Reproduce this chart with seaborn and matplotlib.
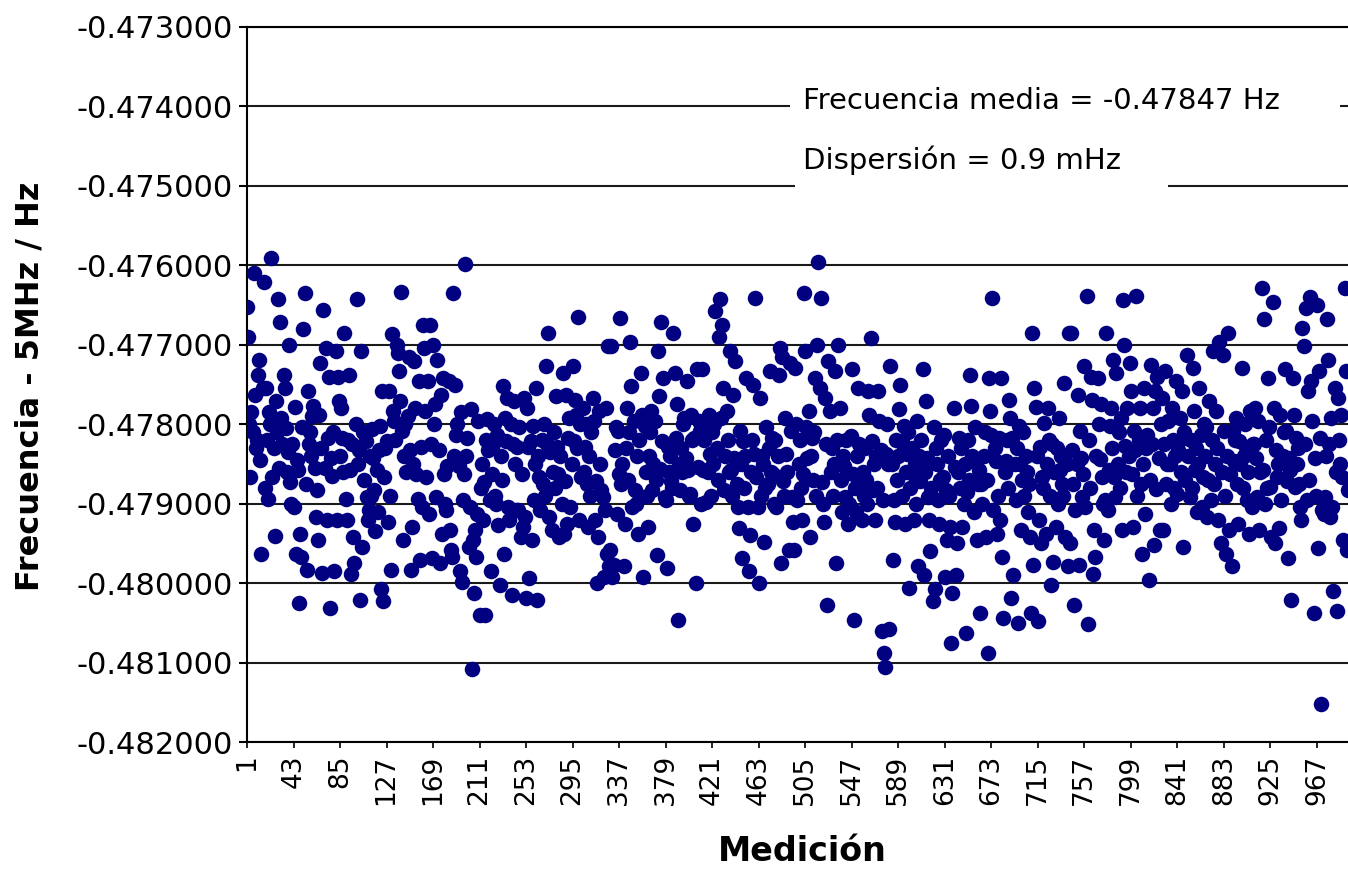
import numpy as np
import pandas as pd
import matplotlib
matplotlib.use("Agg")
import matplotlib.pyplot as plt
from matplotlib.patches import Rectangle
from matplotlib.ticker import FuncFormatter
import seaborn as sns

seg_0001_0079 = [
    -476.53, -476.90, -478.00, -478.67, -477.85, -478.10, -476.10, -477.63, -478.30, -478.20,
    -477.38, -477.19, -478.45, -479.63, -477.55, -476.21,
    -478.80, -477.54, -478.20, -478.94, -477.85, -478.00, -475.91, -478.67, -478.30, -479.41,
    -477.71, -478.10, -476.43, -478.55, -476.71, -477.92, -478.25, -477.38, -477.54, -478.05,
    -478.60, -478.35,
    -477.00, -478.73, -479.00, -478.25, -479.04, -477.78, -479.63, -478.45, -478.58, -480.25,
    -479.38, -479.67, -478.04, -476.80, -476.35, -478.75, -479.83, -477.58, -478.25, -478.10,
    -478.40, -477.90,
    -477.77, -478.55, -479.17, -478.83, -479.46, -477.88, -477.23, -478.30, -479.87, -476.56,
    -478.55, -477.04, -479.21, -478.17, -477.40, -480.31, -478.42, -478.65, -478.10]
seg_0080_0162 = [
    -479.85, -477.08, -479.21, -477.40, -477.71, -478.40, -477.79, -478.17, -478.60, -476.85,
    -478.94, -479.21, -478.20, -477.38, -478.58, -479.88, -478.25, -479.42, -479.75, -478.00,
    -476.43, -478.50, -478.33, -480.21, -477.08, -479.54, -478.10, -478.70, -478.21, -478.92,
    -479.21, -479.08, -478.40, -478.90, -478.06, -478.42, -478.83, -479.35, -478.58, -479.10,
    -478.33, -478.02, -480.08, -477.58, -480.23, -478.67, -478.30, -478.21, -479.23, -477.58,
    -478.90, -479.83, -476.87, -477.83, -477.96, -478.20, -477.00, -477.10, -477.33, -477.71,
    -476.33, -478.08, -479.46, -478.40, -478.00, -478.60, -477.90, -477.15, -478.33, -479.83,
    -479.29, -478.50, -477.20, -477.79, -478.63, -478.94, -477.46, -479.71, -478.29, -479.04,
    -476.75, -477.04, -477.83]
seg_0163_0245 = [
    -478.67, -477.46, -479.13, -476.75, -478.25, -479.69, -477.00, -478.00, -477.75, -478.92,
    -477.19, -478.33, -479.75, -477.63, -479.38, -477.42, -478.63, -479.00, -479.08, -478.52,
    -477.46, -479.33, -479.58, -479.67, -476.35, -478.40, -477.50, -478.13, -478.00, -478.52,
    -479.85, -477.85, -479.98, -478.96, -478.63, -475.98, -478.40, -478.17, -479.54, -479.04,
    -477.81, -481.08, -479.46, -480.13, -479.33, -479.67, -479.13, -477.96, -480.40, -478.80,
    -478.50, -479.20, -478.73, -480.40, -478.20, -477.94, -478.33, -478.96, -479.85, -478.63,
    -478.25, -478.00, -478.90, -479.00, -478.13, -479.27, -480.02, -478.40, -478.70, -477.52,
    -479.63, -477.92, -478.21, -477.67, -479.04, -479.21, -478.00, -480.15, -478.25, -477.71,
    -478.50, -479.08, -478.29]
seg_0246_0328 = [
    -479.08, -478.04, -479.42, -478.63, -479.29, -477.67, -479.17, -480.19, -477.79, -478.29,
    -479.94, -478.21, -479.46, -478.02, -478.96, -478.50, -477.54, -480.21, -478.40, -478.67,
    -479.08, -478.20, -478.75, -478.00, -478.90, -477.27, -478.25, -476.85, -479.17, -478.35,
    -479.33, -478.60, -478.10, -478.80, -477.65, -478.29, -478.63, -479.42, -478.40, -479.00,
    -477.35, -479.38, -478.71, -477.63, -479.25, -478.17, -477.92, -479.04, -478.50, -477.27,
    -478.21, -477.69, -477.88, -478.30, -476.65, -479.21, -478.00, -478.67, -477.79, -478.60,
    -478.29, -478.00, -478.75, -479.29, -478.40, -478.90, -478.10, -477.67, -477.96, -479.21,
    -478.71, -480.00, -479.42, -477.83, -478.50, -478.83, -478.92, -479.92, -479.08, -477.80,
    -479.63, -477.02, -479.79]
seg_0329_0411 = [
    -479.58, -477.02, -479.92, -479.77, -478.33, -478.04, -479.13, -478.08, -478.63, -476.66,
    -478.75, -478.50, -479.79, -479.25, -478.30, -477.79, -478.70, -478.10, -476.96, -477.52,
    -479.04, -477.96, -478.83, -479.00, -478.40, -479.38, -478.20, -478.92, -477.35, -477.88,
    -479.92, -478.02, -478.60, -478.90, -479.29, -478.40, -478.10, -477.83, -478.83, -478.50,
    -477.96, -478.70, -479.65, -477.08, -477.65, -478.56, -476.71, -478.21, -477.42, -478.92,
    -478.96, -479.81, -478.29, -478.60, -478.40, -478.71, -478.80, -476.85, -477.35, -478.17,
    -477.75, -480.46, -478.50, -478.83, -478.30, -478.60, -478.00, -477.92, -478.42, -477.46,
    -478.58, -478.90, -478.88, -477.88, -478.20, -479.25, -478.17, -480.00, -477.31, -478.54,
    -477.96, -478.08, -479.00]
seg_0412_0494 = [
    -477.31, -478.58, -478.20, -478.98, -478.08, -478.60, -477.88, -478.38, -478.90, -478.10,
    -478.50, -478.00, -476.58, -478.30, -478.70, -476.90, -476.42, -477.92, -476.75, -477.54,
    -478.83, -478.40, -477.83, -478.20, -478.60, -477.08, -478.58, -478.90, -477.63, -478.42,
    -477.21, -478.75, -479.04, -479.31, -478.08, -478.50, -479.69, -478.21, -478.80, -478.40,
    -477.42, -479.04, -479.85, -479.40, -478.60, -478.20, -477.50, -478.38, -476.41, -478.67,
    -479.04, -480.00, -477.67, -478.90, -478.40, -478.50, -479.48, -478.80, -478.04, -478.75,
    -478.30, -477.33, -478.60, -478.17, -478.63, -479.00, -478.20, -479.04, -478.40, -477.38,
    -477.04, -479.75, -477.15, -478.71, -478.90, -477.92, -478.38, -478.60, -479.58, -477.23,
    -478.08, -478.92, -479.23]
seg_0495_0577 = [
    -479.58, -477.29, -478.00, -478.96, -478.50, -478.20, -478.80, -479.21, -478.63, -476.35,
    -477.08, -478.04, -478.42, -477.83, -479.42, -478.40, -478.17, -478.70, -478.10, -477.42,
    -478.90, -477.00, -475.96, -477.54, -476.41, -478.73, -479.00, -479.23, -477.67, -478.25,
    -480.27, -477.21, -477.83, -478.60, -478.30, -478.90, -478.50, -477.33, -479.75, -478.20,
    -477.00, -477.79, -478.70, -479.10, -478.40, -478.52, -478.92, -478.20, -478.60, -479.25,
    -479.00, -478.15, -477.31, -478.63, -480.46, -478.80, -479.10, -478.40, -477.54, -478.25,
    -478.75, -479.21, -478.60, -478.90, -478.30, -478.70, -479.00, -477.58, -477.88, -476.92,
    -478.21, -478.83, -478.50, -479.20, -478.40, -478.80, -477.58, -477.96, -478.33, -480.60,
    -478.96, -480.88, -481.06]
seg_0578_0660 = [
    -478.38, -478.00, -478.50, -480.58, -477.27, -478.50, -479.71, -478.96, -479.23, -478.20,
    -478.70, -478.40, -477.81, -477.50, -478.90, -478.25, -478.02, -479.25, -478.60, -478.38,
    -478.10, -480.06, -478.80, -478.30, -478.63, -479.21, -478.50, -479.00, -477.96, -479.79,
    -478.40, -478.71, -478.20, -477.31, -479.90, -478.60, -477.71, -478.42, -478.92, -479.21,
    -479.60, -478.80, -480.23, -478.04, -480.08, -478.30, -478.50, -478.96, -479.25, -478.70,
    -478.20, -478.67, -478.13, -479.92, -478.83, -479.46, -478.40, -478.90, -479.29, -480.75,
    -480.13, -477.79, -478.54, -479.90, -479.50, -478.60, -478.17, -478.80, -478.30, -479.29,
    -479.00, -478.50, -480.63, -478.85, -478.20, -478.70, -477.38, -477.77, -478.40, -479.10,
    -478.04, -478.46, -479.46]
seg_0661_0743 = [
    -478.75, -478.58, -480.38, -478.75, -479.00, -478.40, -478.10, -479.42, -478.70, -480.88,
    -477.42, -477.83, -478.13, -476.41, -479.08, -478.30, -478.46, -479.38, -478.90, -478.17,
    -479.21, -477.42, -479.67, -480.44, -478.60, -478.46, -478.20, -478.80, -477.69, -477.92,
    -480.19, -478.17, -479.90, -478.50, -478.96, -478.30, -480.50, -478.02, -478.50, -479.33,
    -478.70, -478.10, -478.90, -478.40, -478.60, -479.10, -478.75, -479.42, -480.38, -476.85,
    -479.77, -477.54, -477.78, -478.40, -480.48, -479.21, -478.29, -479.50, -478.67, -478.80,
    -477.98, -479.38, -478.50, -477.79, -478.20, -478.90, -480.02, -478.25, -479.73, -478.60,
    -479.29, -478.30, -479.00, -477.92, -478.58, -478.40, -478.75, -478.90, -477.48, -479.42,
    -478.50, -479.79, -476.85]
seg_0744_0826 = [
    -479.50, -476.85, -478.33, -478.75, -480.27, -479.08, -478.50, -477.63, -479.77, -478.08,
    -478.42, -478.92, -478.63, -477.27, -479.04, -476.38, -480.52, -478.20, -478.80, -477.40,
    -477.69, -479.88, -479.33, -479.67, -478.40, -477.42, -478.00, -478.44, -477.75, -478.67,
    -479.00, -479.46, -478.96, -476.85, -479.08, -478.58, -478.02, -477.79, -478.30, -477.19,
    -478.67, -478.92, -477.35, -478.50, -478.10, -478.80, -477.92, -479.33, -476.44, -477.00,
    -478.27, -478.60, -477.79, -478.40, -477.23, -477.58, -478.63, -479.29, -478.08, -478.33,
    -476.38, -478.90, -478.20, -477.79, -478.75, -479.63, -478.50, -477.54, -479.13, -478.30,
    -478.13, -479.96, -478.70, -477.25, -478.25, -477.79, -479.52, -477.58, -478.81, -477.40,
    -478.42, -479.33, -478.00]
seg_0827_0909 = [
    -477.67, -479.33, -478.25, -477.33, -478.75, -478.50, -477.96, -478.50, -479.00, -477.79,
    -478.20, -478.80, -478.40, -477.46, -478.88, -478.33, -477.92, -478.60, -477.58, -479.55,
    -478.10, -478.70, -478.17, -477.13, -478.40, -478.92, -478.20, -478.80, -477.29, -477.83,
    -478.58, -478.30, -479.10, -478.50, -477.54, -478.13, -479.04, -478.67, -478.00, -478.40,
    -478.04, -479.17, -478.70, -477.71, -478.96, -478.20, -477.08, -478.75, -478.50, -477.83,
    -478.30, -479.21, -476.96, -479.50, -478.60, -477.13, -478.08, -478.90, -479.63, -478.40,
    -476.85, -479.33, -478.63, -479.79, -478.08, -478.46, -478.20, -477.92, -478.75, -479.25,
    -478.21, -478.50, -477.29, -478.80, -478.40, -478.00, -478.29, -478.96, -478.60, -479.38,
    -477.83, -479.04, -478.25]
seg_0910_0995 = [
    -478.25, -477.79, -478.42, -478.92, -477.96, -479.33, -478.60, -476.29, -478.58, -476.67,
    -479.00, -478.20, -478.80, -477.42, -478.04, -478.79, -479.42, -476.46, -477.79, -479.50,
    -478.33, -478.67, -478.50, -479.31, -477.88, -478.96, -478.40, -478.10, -477.31, -478.08,
    -478.71, -479.69, -478.42, -478.58, -480.21, -477.42, -477.88, -478.79, -478.17, -478.50,
    -478.30, -478.75, -479.04, -479.21, -476.79, -477.02, -478.25, -476.54, -478.96, -477.58,
    -478.70, -476.40, -477.46, -477.96, -480.38, -478.42, -478.90, -476.50, -479.56, -477.33,
    -478.17, -481.52, -479.08, -479.13, -478.92, -478.40, -476.67, -477.19, -478.25, -479.17,
    -477.92, -479.04, -480.10, -477.54, -478.60, -480.35, -477.67, -478.20, -478.50, -477.88,
    -478.67, -479.46, -476.29, -477.33, -479.58, -478.83]

frecuencia_mHz = (seg_0001_0079 + seg_0080_0162 + seg_0163_0245 + seg_0246_0328 +
                  seg_0329_0411 + seg_0412_0494 + seg_0495_0577 + seg_0578_0660 +
                  seg_0661_0743 + seg_0744_0826 + seg_0827_0909 + seg_0910_0995)
medicion = list(range(1, len(frecuencia_mHz) + 1))

xtick_labels = [1, 43, 85, 127, 169, 211, 253, 295, 337, 379, 421, 463, 505, 547,
                589, 631, 673, 715, 757, 799, 841, 883, 925, 967]
ytick_values = [-0.482, -0.481, -0.480, -0.479, -0.478, -0.477, -0.476, -0.475, -0.474, -0.473]

texto_media = "Frecuencia media = -0.47847 Hz"
texto_dispersion = "Dispersión = 0.9 mHz"

sns.set_style("white")
plt.rcParams["font.family"] = ["DejaVu Sans"]

W, H = 1348, 869
fig = plt.figure(figsize=(W / 100, H / 100), dpi=100)
ax = fig.add_axes([247 / W, 1 - 742 / H, 1101 / W, 715 / H])

df = pd.DataFrame({"Medición": medicion,
                   "Frecuencia": np.array(frecuencia_mHz) / 1000.0})
sns.scatterplot(data=df, x="Medición", y="Frecuencia", ax=ax, color="#000080",
                s=125, linewidth=0, zorder=3, legend=False)

ax.set_xlim(1, 995.1)
ax.set_ylim(-0.482, -0.473)
ax.set_yticks(ytick_values)
ax.yaxis.set_major_formatter(FuncFormatter(lambda v, p: f"{v:.6f}"))
ax.set_xticks(xtick_labels)
ax.set_xticklabels([str(v) for v in xtick_labels], rotation=90)

ax.set_axisbelow(True)
ax.grid(axis="y", color="#1a1a1a", linewidth=1.5)
ax.grid(axis="x", visible=False)

ax.spines["right"].set_visible(False)
for side in ["left", "bottom", "top"]:
    ax.spines[side].set_visible(True)
    ax.spines[side].set_color("#000000")
    ax.spines[side].set_linewidth(1.5)

ax.tick_params(axis="y", direction="out", length=6, width=1.5, pad=4,
               labelsize=22, colors="#000000", left=True)
ax.tick_params(axis="x", direction="out", length=4, width=1.2, pad=5,
               labelsize=19, colors="#000000", bottom=True)

ax.set_xlabel("Medición", fontsize=24, fontweight="bold", color="#000000")
ax.set_ylabel("Frecuencia - 5MHz / Hz", fontsize=23, fontweight="bold", color="#000000")
ax.xaxis.set_label_coords(0.504, -0.153)
ax.xaxis.label.set_va("center")
ax.yaxis.set_label_coords(-0.197, 0.498)
ax.yaxis.label.set_va("center")

# white text boxes interrupting the gridlines
ax.add_patch(Rectangle((0.4932, 0.8587), 0.4995, 0.0602, transform=ax.transAxes,
                       facecolor="white", edgecolor="none", zorder=1))
ax.add_patch(Rectangle((0.4977, 0.7692), 0.3388, 0.0728, transform=ax.transAxes,
                       facecolor="white", edgecolor="none", zorder=1))
ax.text(0.505, 0.8965, texto_media, transform=ax.transAxes, fontsize=21,
        va="center", ha="left", color="#000000", zorder=4)
ax.text(0.505, 0.8140, texto_dispersion, transform=ax.transAxes, fontsize=21,
        va="center", ha="left", color="#000000", zorder=4)

fig.savefig("out.png", dpi=100)
